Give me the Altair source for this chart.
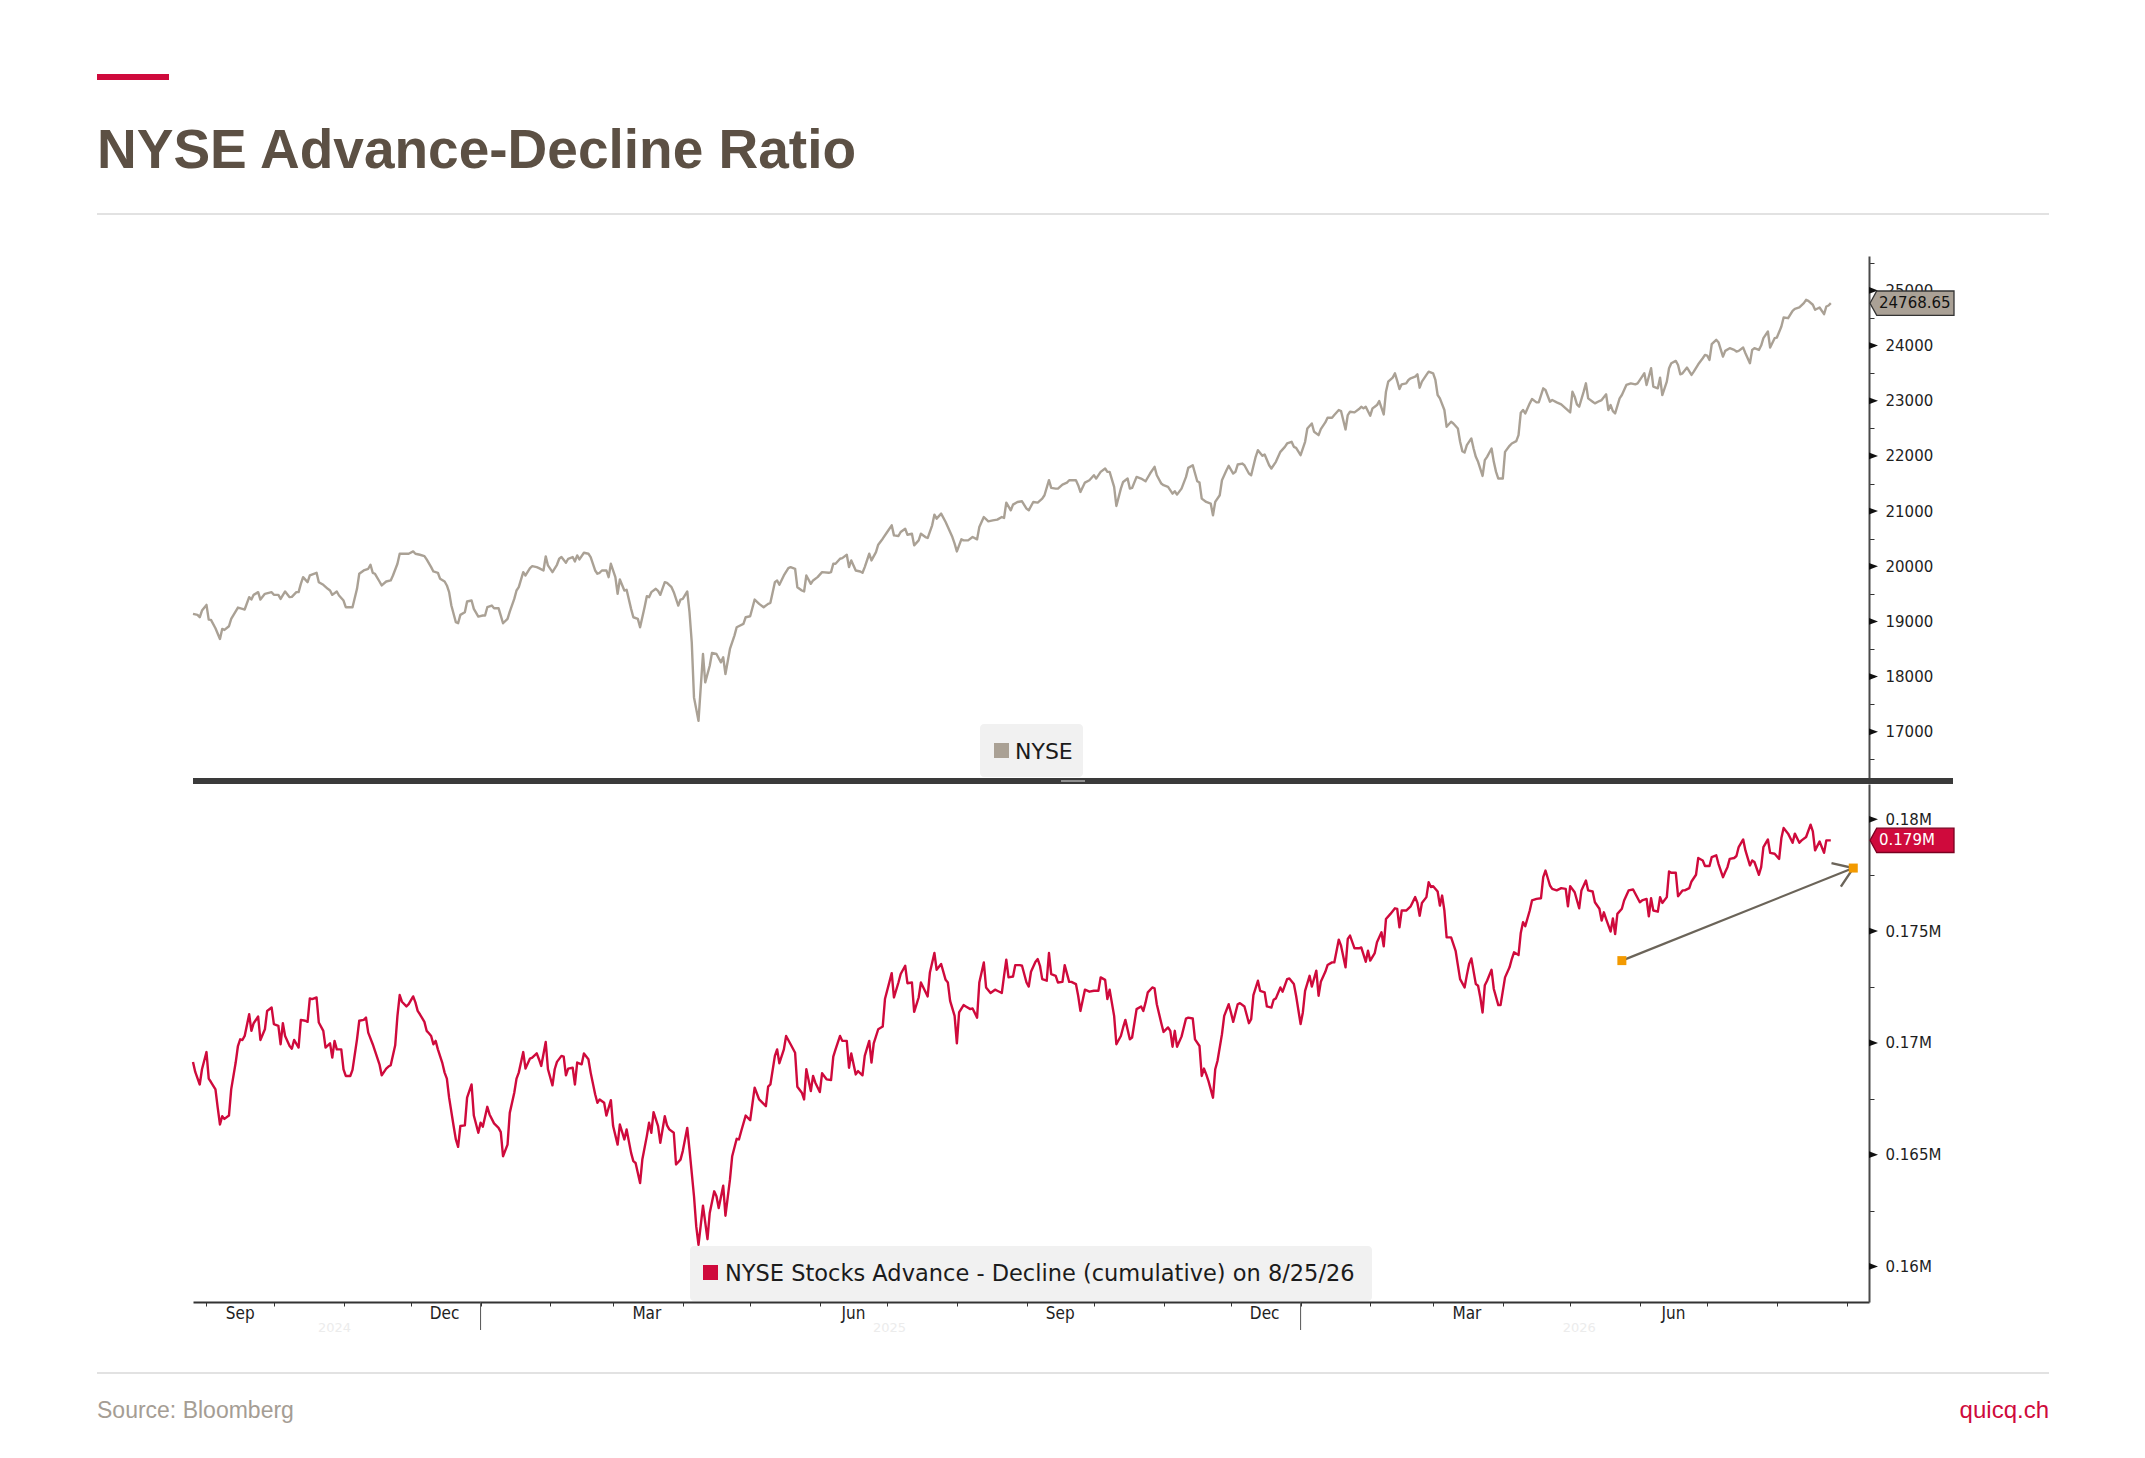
import math

import altair as alt
import pandas as pd

# ---------------------------------------------------------------- data
START = pd.Timestamp("2024-08-26")   # day 0 of the series

# NYSE Composite, days since START and index level
nyse_days = [
    0, 2, 3, 4, 6, 7, 8, 10, 12, 13, 14, 16, 17, 20, 22, 23, 25, 26, 27, 29,
    30, 32, 35, 36, 38, 39, 41, 43, 44, 46, 47, 48, 49, 51, 52, 55, 56, 58, 60, 61,
    62, 64, 65, 67, 68, 71, 73, 74, 76, 78, 79, 80, 81, 83, 84, 86, 88, 89, 91, 92,
    94, 96, 98, 99, 101, 103, 104, 106, 107, 109, 110, 112, 113, 114, 115, 117, 118, 119, 121, 122,
    124, 125, 127, 129, 130, 131, 133, 134, 136, 137, 138, 140, 141, 143, 144, 145, 147, 148, 150, 151,
    153, 154, 156, 157, 158, 160, 162, 163, 164, 166, 167, 169, 170, 171, 172, 174, 176, 177, 179, 180,
    181, 182, 184, 185, 186, 188, 189, 190, 192, 193, 195, 196, 198, 199, 201, 202, 203, 204, 206, 207,
    208, 210, 211, 213, 214, 216, 217, 218, 220, 221, 222, 223, 224, 225, 227, 228, 230, 231, 233, 235,
    236, 237, 239, 241, 242, 245, 246, 248, 250, 252,
    254, 256, 257, 259, 260, 261, 263, 265, 266, 268, 269, 271, 272, 273, 275, 276, 278, 280, 283, 284,
    285, 286, 288, 289, 291, 292, 293, 295, 297, 298, 299, 301, 302, 304, 305, 307, 309, 311, 312, 314,
    315, 317, 318, 320, 321, 323, 324, 326, 327, 329, 330, 331, 333, 335, 336, 338, 339, 340, 342, 343,
    345, 347, 349, 350, 352, 354, 356, 358, 360, 361, 362, 364, 365, 367, 369, 371, 372, 374, 376, 378,
    379, 381, 382, 384, 385, 387, 389, 390, 393, 394, 395, 397, 399, 401, 402, 404, 406, 407, 408, 410,
    411, 413, 414, 416, 417, 418, 420, 422, 424, 426, 428, 429, 431, 432, 434, 436, 437, 438, 440, 442,
    443, 445, 447, 448, 449, 451, 453, 454, 455, 457, 458, 460, 461, 463, 464, 465, 467, 468, 470, 471,
    473, 474, 476, 477, 479, 480, 482, 484, 486, 487, 489, 490, 491, 493, 495, 496, 498, 499,
    501, 502, 504, 505, 507, 508, 510, 511, 513, 514, 515, 517, 519, 520, 521, 522, 524, 525, 526, 527,
    528, 530, 531, 532, 534, 535, 536, 537, 538, 540, 541, 542, 544, 545, 546, 547, 549, 550, 552, 553,
    554, 555, 557, 558, 560, 561, 563, 564, 565, 566, 567, 569, 570, 571, 572, 574, 575, 576, 578, 579,
    580, 581, 583, 584, 586, 587, 589, 590, 591, 592, 593, 595, 596, 598, 599, 601, 602, 604, 605, 607,
    609, 611, 613, 614, 615, 616, 617, 619, 620, 621, 623, 624, 626, 627, 629, 630, 631, 632, 633, 635,
    636, 637, 638, 640, 642, 643, 645, 646, 647, 649, 650, 652, 653, 654, 656, 657, 658, 660, 661, 662,
    663, 665, 667, 668, 670, 672, 673, 674, 675, 676, 678, 679, 681, 682, 684, 686, 687, 688, 690, 691,
    693, 694, 695, 697, 698, 699, 701, 702, 704, 705, 707, 708, 710, 712, 713, 715, 717, 718, 719, 721,
    722, 724, 726, 727, 728, 729,
]
nyse_vals = [
    19137, 19119, 19076, 19197, 19300, 19034, 19028, 18876, 18683, 18864, 18846, 18913, 19046, 19252, 19228, 19216, 19440, 19397, 19482, 19531,
    19397, 19500, 19531, 19482, 19482, 19409, 19543, 19440, 19446, 19531, 19531, 19682, 19803, 19712, 19833, 19882, 19712, 19664, 19591, 19561,
    19482, 19543, 19470, 19379, 19258, 19258, 19591, 19864, 19924, 19955, 20027, 19882, 19864, 19724, 19652, 19724, 19743, 19833, 20045, 20227,
    20227, 20227, 20269, 20227, 20209, 20185, 20124, 19985, 19906, 19882, 19773, 19724, 19652, 19531, 19288, 18985, 18967, 19119, 19167, 19361,
    19379, 19228, 19088, 19107, 19107, 19258, 19288, 19240, 19240, 19107, 18967, 19046, 19179, 19409, 19561, 19621, 19894, 19833, 19967, 20003,
    19985, 19967, 19924, 20179, 20015, 19894, 20027, 20136, 20167, 20064, 20136, 20167, 20088, 20197, 20124, 20245, 20227, 20167, 19924, 19864,
    19882, 19924, 19924, 19803, 20045, 19803, 19500, 19761, 19561, 19573, 19228, 19076, 19046, 18895, 19258, 19458, 19440, 19531, 19591, 19555,
    19482, 19712, 19700, 19621, 19531, 19288, 19397, 19409, 19543, 19167, 18622, 17623, 17411, 17199, 18410, 17895, 18198, 18428, 18410, 18259,
    18349, 18047, 18501, 18743, 18895, 18955, 19076, 19094, 19397, 19319,
    19258, 19319, 19337, 19712, 19743, 19664, 19833, 19967, 19985, 19955, 19621, 19561, 19543, 19833, 19682, 19743, 19803, 19894, 19882, 19894,
    20045, 20045, 20136, 20148, 20209, 19985, 20106, 19924, 19906, 19882, 19985, 20227, 20106, 20257, 20391, 20500, 20621, 20742, 20560, 20548,
    20621, 20681, 20572, 20590, 20379, 20469, 20590, 20530, 20512, 20742, 20936, 20863, 20954, 20802, 20712, 20530, 20409, 20269, 20488, 20469,
    20469, 20530, 20488, 20712, 20893, 20815, 20833, 20845, 20893, 20875, 21154, 21014, 21117, 21166, 21178, 21045, 21014, 21166, 21154, 21226,
    21287, 21560, 21420, 21408, 21408, 21481, 21517, 21560, 21560, 21469, 21348, 21517, 21560, 21650, 21590, 21711, 21772, 21711, 21711, 21438,
    21093, 21408, 21529, 21590, 21408, 21420, 21620, 21590, 21541, 21681, 21802, 21650, 21499, 21469, 21438, 21317, 21360, 21299, 21408, 21620,
    21784, 21832, 21541, 21517, 21226, 21166, 21136, 20924, 21166, 21287, 21560, 21741, 21820, 21681, 21711, 21844, 21862, 21832, 21681, 21650,
    21984, 22105, 22002, 22026, 21832, 21772, 21893, 22074, 22165, 22226, 22256, 22165, 22147, 22014, 22256, 22498, 22589, 22438,
    22377, 22486, 22607, 22692, 22692, 22741, 22832, 22813, 22480, 22741, 22801, 22789, 22850, 22892, 22862, 22892, 22729, 22862, 22892, 22922,
    22995, 22753, 23165, 23346, 23419, 23498, 23359, 23213, 23298, 23316, 23377, 23407, 23437, 23480, 23237, 23346, 23468, 23528, 23498, 23377,
    23104, 23044, 22832, 22529, 22620, 22589, 22498, 22256, 22087, 22062, 22196, 22317, 22135, 21984, 21893, 21638, 21923, 21984, 22135, 21893,
    21711, 21590, 21590, 22074, 22183, 22226, 22268, 22377, 22783, 22832, 22771, 22953, 23031, 22971, 22971, 23225, 23195, 22983, 23013, 22971,
    22935, 22862, 22789, 23165, 23074, 22935, 22892, 23165, 23316, 23044, 22983, 22953, 22995, 23013, 23116, 22832, 22922, 22813, 22771, 23044,
    23104, 23195, 23286, 23316, 23298, 23316, 23437, 23498, 23286, 23589, 23256, 23225, 23419, 23104, 23346, 23589, 23680, 23722, 23649, 23480,
    23498, 23601, 23468, 23528, 23661, 23770, 23831, 23819, 23740, 24025, 24104, 24061, 23801, 23904, 23952, 23922, 23892, 23904, 23964, 23861,
    23680, 23922, 23952, 23922, 24001, 24134, 24255, 23964, 24134, 24146, 24346, 24509, 24497, 24631, 24667, 24691, 24770, 24830, 24812, 24740,
    24649, 24691, 24570, 24709, 24727, 24768.65,
]

# NYSE advance - decline line (cumulative), in thousands
ad_days = [
    0, 1, 3, 4, 6, 7, 8, 10, 11, 12, 13, 14, 16, 17, 19, 20, 21, 22, 23, 25,
    26, 27, 29, 30, 32, 33, 35, 36, 38, 39, 40, 41, 43, 44, 45, 47, 48, 50, 51, 52,
    53, 55, 56, 58, 59, 61, 62, 63, 64, 66, 67, 68, 70, 71, 73, 74, 76, 77, 78, 80,
    81, 83, 84, 86, 87, 88, 90, 91, 92, 93, 95, 96, 98, 99, 100, 101, 103, 104, 105, 106,
    107, 108, 109, 111, 112, 113, 114, 116, 117, 118, 119, 121, 122, 124, 125, 127, 128, 129, 131, 132,
    134, 136, 137, 138, 140, 141, 143, 144, 145, 147, 148, 150, 151, 153, 154, 155, 157, 158, 160, 161,
    162, 164, 165, 166, 167, 169, 170, 171, 173, 174, 176, 177, 179, 180, 181, 183, 184, 186, 187, 189,
    190, 192, 193, 195, 196, 197, 199, 200, 202, 203, 204, 205, 207, 208, 210, 211, 212, 214, 215, 217,
    218, 220, 221, 223, 224, 225, 227, 229, 230, 232, 233, 234, 236, 237, 239, 240, 242, 243, 244, 246,
    248, 250, 252,
    255, 256, 257, 259, 260, 261, 263, 264, 266, 268, 269, 271, 272, 273, 275, 276, 277, 279, 280, 282,
    284, 285, 286, 288, 289, 291, 292, 293, 295, 296, 298, 299, 301, 302, 303, 305, 307, 308, 311, 312,
    314, 315, 317, 318, 320, 321, 323, 324, 326, 327, 328, 330, 331, 333, 335, 336, 337, 339, 340, 341,
    343, 344, 346, 347, 349, 350, 352, 353, 355, 357, 358, 360, 361, 362, 363, 365, 366, 368, 369, 371,
    372, 373, 375, 376, 377, 378, 380, 381, 382, 384, 385, 387, 388, 390, 391, 393, 394, 395, 397, 399,
    401, 403, 404, 406, 407, 408, 410, 411, 413, 414, 415, 417, 418, 420, 422, 423, 424, 425, 427, 428,
    429, 431, 432, 434, 435, 436, 437, 438, 440, 442, 443, 445, 446, 448, 449, 450, 451, 452, 454, 455,
    456, 458, 459, 461, 462, 463, 465, 466, 468, 470, 471, 472, 474, 475, 477, 478, 480, 481, 482, 484,
    485, 487, 488, 490, 491, 493, 494, 495, 497, 498, 500,
    501, 502, 504, 505, 507, 508, 510, 511, 513, 514, 515, 517, 519, 520, 522, 523, 524, 526, 527, 529,
    530, 531, 533, 535, 536, 537, 538, 540, 542, 544, 545, 546, 547, 549, 550, 551, 552, 554, 555, 556,
    557, 558, 560, 562, 563, 564, 566, 567, 568, 569, 571, 572, 573, 574, 575, 576, 578, 579, 581, 582,
    584, 586, 587, 588, 590, 591, 592, 593, 595, 596, 598, 600, 601, 602, 604, 605, 607, 609, 611, 612,
    613, 615, 617, 618, 620, 621, 623, 624, 626, 627, 628, 629, 631, 632, 633, 634, 636, 637, 639, 641,
    642, 644, 645, 647, 648, 649, 650, 652, 653, 654, 656, 657, 658, 660, 661, 663, 664, 666, 667, 669,
    670, 672, 673, 675, 676, 678, 679, 681, 682, 683, 684, 686, 687, 688, 690, 691, 693, 694, 695, 697,
    698, 699, 701, 702, 704, 706, 707, 708, 710, 712, 713, 715, 716, 718, 720, 721, 722, 724, 726, 727,
    728, 729,
]
ad_vals = [
    169.15, 168.70, 168.14, 168.82, 169.59, 168.40, 168.25, 167.92, 167.10, 166.35, 166.72, 166.60, 166.75, 167.92, 169.12, 169.86, 170.16, 170.13, 170.31, 171.28,
    170.54, 170.88, 171.18, 170.13, 170.61, 171.43, 171.58, 170.84, 170.76, 169.94, 170.88, 170.31, 169.86, 169.74, 170.13, 169.79, 171.03, 170.99, 170.94, 171.99,
    171.96, 172.03, 170.91, 170.54, 169.79, 169.98, 169.34, 170.09, 169.71, 169.71, 168.82, 168.52, 168.52, 168.79, 170.16, 170.99, 171.03, 171.13, 170.46, 169.94,
    169.64, 169.04, 168.55, 168.85, 168.94, 169.00, 169.89, 171.21, 172.14, 171.84, 171.63, 171.73, 172.08, 171.81, 171.43, 171.28, 170.94, 170.54, 170.43, 170.31,
    169.94, 170.09, 169.71, 169.09, 168.67, 168.40, 167.55, 166.28, 165.68, 165.35, 166.28, 166.31, 167.55, 168.14, 166.75, 165.98, 166.43, 166.25, 167.14, 166.80,
    166.40, 166.20, 166.01, 164.93, 165.45, 166.87, 167.77, 168.40, 168.67, 169.59, 168.85, 169.30, 169.34, 169.53, 169.27, 168.97, 170.04, 168.82, 168.10, 168.82,
    169.15, 169.42, 169.39, 168.55, 168.85, 168.89, 168.14, 169.12, 169.04, 169.53, 169.27, 168.67, 167.70, 167.32, 167.47, 167.32, 166.75, 167.44, 166.28, 165.45,
    166.35, 165.68, 166.13, 165.08, 164.71, 164.63, 163.73, 164.78, 165.83, 166.43, 165.98, 166.90, 166.28, 165.53, 166.72, 166.31, 166.13, 165.98, 164.56, 164.78,
    165.16, 166.20, 165.23, 163.14, 161.79, 160.97, 162.72, 161.22, 162.39, 163.36, 163.14, 162.61, 163.61, 162.27, 163.88, 164.93, 165.71, 165.68, 166.05, 166.75,
    166.54, 168.00, 167.47,
    167.17, 168.04, 168.14, 169.42, 169.71, 169.09, 169.71, 170.31, 169.94, 169.56, 168.04, 167.77, 167.47, 168.82, 167.85, 168.52, 168.22, 167.80, 168.64, 168.37,
    168.34, 169.39, 169.71, 170.31, 170.09, 170.09, 168.89, 169.53, 168.59, 168.74, 168.55, 169.42, 170.09, 169.12, 169.98, 170.61, 170.73, 171.96, 173.12, 172.03,
    172.70, 173.08, 173.45, 172.67, 172.70, 171.39, 172.03, 172.70, 172.29, 172.08, 173.15, 174.02, 173.27, 173.53, 172.82, 172.70, 171.88, 171.21, 169.98, 171.36,
    171.69, 171.63, 171.51, 171.54, 171.13, 172.70, 173.60, 172.48, 172.23, 172.38, 172.33, 172.23, 173.00, 173.72, 172.93, 172.97, 173.48, 173.48, 173.45, 172.70,
    172.52, 173.18, 173.63, 173.75, 173.45, 172.85, 172.78, 174.02, 173.08, 173.00, 172.70, 172.73, 173.48, 172.73, 172.73, 172.63, 172.11, 171.43, 172.38, 172.29,
    172.33, 172.33, 172.93, 172.82, 171.96, 172.38, 171.21, 169.94, 170.31, 170.69, 171.03, 170.16, 170.24, 171.51, 171.63, 171.43, 171.81, 172.26, 172.48, 172.44,
    171.73, 170.88, 170.49, 170.69, 170.54, 169.83, 170.54, 169.83, 170.28, 171.09, 171.13, 171.09, 170.16, 169.86, 168.52, 168.85, 168.59, 168.29, 167.55, 168.82,
    169.19, 170.39, 171.21, 171.73, 171.36, 170.94, 171.73, 171.78, 171.63, 170.88, 171.06, 172.14, 172.78, 172.33, 172.26, 171.63, 171.58, 171.93, 171.99, 172.48,
    172.29, 172.85, 172.88, 172.63, 172.11, 170.84, 171.36, 172.33, 173.00, 172.52, 173.23,
    172.11, 172.73, 173.18, 173.48, 173.60, 173.60, 174.62, 174.35, 173.38, 174.65, 174.80, 174.23, 174.23, 174.27, 173.63, 174.12, 173.68, 174.02, 174.50, 174.95,
    174.32, 175.54, 175.77, 176.02, 175.99, 175.17, 175.92, 175.92, 176.11, 176.52, 176.26, 175.69, 176.26, 176.52, 177.19, 176.97, 177.01, 176.77, 176.14, 176.59,
    175.92, 174.72, 174.72, 174.12, 173.48, 172.85, 172.48, 173.03, 173.53, 173.78, 172.63, 172.56, 172.03, 171.36, 172.58, 172.78, 173.27, 172.41, 171.69, 171.69,
    172.93, 173.38, 173.75, 174.05, 173.93, 174.92, 175.40, 175.22, 175.92, 176.37, 176.44, 176.47, 177.41, 177.71, 177.04, 176.89, 176.82, 176.92, 176.89, 176.11,
    177.01, 176.74, 176.02, 176.82, 177.26, 176.82, 176.77, 176.29, 176.00, 175.47, 175.84, 175.54, 174.98, 175.57, 174.87, 175.77, 176.00, 176.37, 176.82, 176.86,
    176.67, 176.29, 176.37, 176.44, 175.66, 176.47, 175.92, 175.87, 176.52, 176.26, 176.52, 177.67, 177.61, 177.61, 176.56, 176.82, 176.82, 176.92, 177.22, 177.52,
    178.27, 178.16, 177.91, 177.91, 178.31, 178.39, 178.01, 177.41, 177.64, 177.86, 178.23, 178.27, 178.36, 178.76, 179.10, 178.61, 177.94, 178.16, 178.09, 177.52,
    177.86, 178.76, 179.10, 178.50, 178.46, 178.23, 179.16, 179.61, 179.36, 178.95, 179.36, 178.95, 179.06, 179.21, 179.76, 179.46, 178.61, 179.01, 178.50, 179.06,
    179.06, 179.06,
]

# last values shown in the tags on the right axis
nyse_last_label = ["24768.65"]
ad_last_label = ["0.179M"]

# trend arrow drawn on the lower panel (days since START, thousands)
arrow_days = [636, 739]
arrow_vals = [173.68, 177.82]

# axis ticks / labels
top_ticks = [16500, 17000, 17500, 18000, 18500, 19000, 19500, 20000, 20500,
             21000, 21500, 22000, 22500, 23000, 23500, 24000, 24500, 25000, 25500]
top_major = [17000, 18000, 19000, 20000, 21000, 22000, 23000, 24000, 25000]
bot_ticks = [160, 162.5, 165, 167.5, 170, 172.5, 175, 177.5, 180]
bot_major = [160, 165, 170, 175, 180]
month_labels = ["Sep", "Dec", "Mar", "Jun", "Sep", "Dec", "Mar", "Jun"]
month_label_dates = ["2024-09-16", "2024-12-16", "2025-03-16", "2025-06-16",
                     "2025-09-16", "2025-12-16", "2026-03-16", "2026-06-16"]
year_tick_dates = ["2025-01-01", "2026-01-01"]
year_labels = ["2024", "2025", "2026"]
year_label_dates = ["2024-10-28", "2025-07-02", "2026-05-05"]

TITLE = "NYSE Advance-Decline Ratio"
TOP_LEGEND = "NYSE"
BOT_LEGEND = "NYSE Stocks Advance - Decline (cumulative) on 8/25/26"
SOURCE = "Source: Bloomberg"
BRAND = "quicq.ch"

# ---------------------------------------------------------------- style
W = 1676
H_TOP = 524
H_BOT = 518
DOMAIN_DAYS = 746
TOP_DOMAIN = [16126, 25624]
BOT_DOMAIN = [158.41, 181.58]
RIGHT_EDGE = 1856      # right end of the header / footer rules
TAG_W = 84

GREY = "#aaa195"
RED = "#cf0a3c"
ORANGE = "#f39a00"
DARK = "#3a3a3a"
AXIS_FONT = "DejaVu Sans"
TEXT_FONT = "Liberation Sans"
XLAB_FONT = "'Liberation Sans Narrow', 'DejaVu Sans Condensed', 'DejaVu Sans'"

TAG = "M -1 0 L -0.84 -0.29 L 1 -0.29 L 1 0.29 L -0.84 0.29 Z"
TRI = "M -1 -0.75 L 1 0 L -1 0.75 Z"
CHEVRON = "M -0.8 -0.55 L 0 0 L -0.8 0.55"


def to_dates(days):
    return START + pd.to_timedelta(days, unit="D")


nyse = pd.DataFrame({"date": to_dates(nyse_days), "value": nyse_vals})
ad = pd.DataFrame({"date": to_dates(ad_days), "value": ad_vals})
nyse_tag = pd.DataFrame({"value": [nyse_vals[-1]], "label": nyse_last_label})
ad_tag = pd.DataFrame({"value": [ad_vals[-1]], "label": ad_last_label})
arrow = pd.DataFrame({"date": to_dates(arrow_days), "value": arrow_vals})
top_tri = pd.DataFrame({"value": top_major})
bot_tri = pd.DataFrame({"value": bot_major})
months = pd.DataFrame({"date": pd.to_datetime(month_label_dates), "label": month_labels})
year_ticks = pd.DataFrame({"date": pd.to_datetime(year_tick_dates)})
years = pd.DataFrame({"date": pd.to_datetime(year_label_dates), "label": year_labels})
one = pd.DataFrame({"k": [0]})

month_starts = pd.date_range("2024-09-01", "2026-09-01", freq="MS")
month_tick_values = [alt.DateTime(year=d.year, month=d.month, date=1) for d in month_starts]

x_scale = alt.Scale(domain=[alt.DateTime(year=2024, month=8, date=26),
                            alt.DateTime(year=2026, month=9, date=11)])


def y_axis(values, label_expr):
    return alt.Axis(orient="right", values=values, labelExpr=label_expr,
                    labelOverlap=False, labelFont=AXIS_FONT, labelFontSize=15,
                    labelColor="#1e1e1e", labelPadding=11, tickSize=5,
                    tickColor="#333333", tickWidth=1, domainColor="#4a4a4a",
                    domainWidth=2, grid=False, title=None, zindex=0)


top_x = alt.X("date:T", scale=x_scale, axis=None)
top_y = alt.Y("value:Q", scale=alt.Scale(domain=TOP_DOMAIN, nice=False, zero=False),
              axis=y_axis(top_ticks, "datum.value % 1000 == 0 ? format(datum.value, 'd') : ''"))
bot_x = alt.X("date:T", scale=x_scale,
              axis=alt.Axis(values=month_tick_values, labels=False, tickSize=4,
                            tickColor="#333333", domainColor="#333333", domainWidth=2,
                            grid=False, title=None, zindex=0))
bot_y = alt.Y("value:Q", scale=alt.Scale(domain=BOT_DOMAIN, nice=False, zero=False),
              axis=y_axis(bot_ticks, "datum.value % 5 == 0 ? format(datum.value / 1000, '.3~f') + 'M' : ''"))


def px_rect(x1, x2, y1, y2, **style):
    return alt.Chart(one).mark_rect(**style).encode(
        x=alt.value(x1), x2=alt.value(x2), y=alt.value(y1), y2=alt.value(y2))


def px_text(x, y, text, **style):
    return alt.Chart(one).mark_text(**style).encode(
        x=alt.value(x), y=alt.value(y), text=alt.value(text))


def px_hrule(x1, x2, y, **style):
    return alt.Chart(one).mark_rule(**style).encode(
        x=alt.value(x1), x2=alt.value(x2), y=alt.value(y))


def tag_layers(df, y_enc, fill, stroke, text_color):
    shape = alt.Chart(df).mark_point(
        shape=TAG, size=TAG_W ** 2, filled=True, fill=fill, stroke=stroke,
        strokeWidth=1.3, opacity=1).encode(x=alt.value(W + 1 + TAG_W / 2), y=y_enc)
    text = alt.Chart(df).mark_text(
        align="left", baseline="middle", font=AXIS_FONT, fontSize=15,
        color=text_color).encode(x=alt.value(W + 10), y=y_enc, text="label:N")
    return shape + text


def tri_layer(df, y_enc):
    return alt.Chart(df).mark_point(
        shape=TRI, size=81, filled=True, color="#111111", opacity=1).encode(
        x=alt.value(W + 4.5), y=y_enc)


# ---------------------------------------------------------------- upper panel
top = alt.layer(
    px_rect(-96, -24, -182, -176, color=RED),
    px_text(-96, -88, TITLE, align="left", baseline="alphabetic", font=TEXT_FONT,
            fontSize=55, fontWeight="bold", color="#5c5044"),
    px_hrule(-96, RIGHT_EDGE, -42, color="#d9d9d9", strokeWidth=1.5),
    px_rect(787, 890, 468, 521, color="#f1f1f1", cornerRadius=4),
    px_rect(801, 816, 487, 502, color=GREY),
    px_text(822, 503, TOP_LEGEND, align="left", baseline="alphabetic",
            font=AXIS_FONT, fontSize=22, color="#1b1b1b"),
    alt.Chart(nyse).mark_line(color=GREY, strokeWidth=2.4, strokeJoin="round").encode(
        x=top_x, y=top_y),
    tri_layer(top_tri, top_y),
    tag_layers(nyse_tag, top_y, "#aaa196", "#333333", "#111111"),
    px_hrule(0, W + TAG_W, H_TOP + 1, color=DARK, strokeWidth=6),
    px_hrule(868, 892, H_TOP + 1, color="#8f8f8f", strokeWidth=2),
).properties(width=W, height=H_TOP)

# ---------------------------------------------------------------- lower panel
dx = (arrow_days[1] - arrow_days[0]) * W / DOMAIN_DAYS
dy = (arrow_vals[1] - arrow_vals[0]) * H_BOT / (BOT_DOMAIN[1] - BOT_DOMAIN[0])
chevron_angle = 360 - math.degrees(math.atan2(dy, dx))
arrow_end = arrow.iloc[[1]]

bottom = alt.layer(
    px_rect(497, 1179, 462, 517, color="#f1f1f1", cornerRadius=4),
    px_rect(510, 525, 481, 496, color=RED),
    px_text(532, 497, BOT_LEGEND, align="left", baseline="alphabetic",
            font=AXIS_FONT, fontSize=22.5, color="#1b1b1b"),
    alt.Chart(ad).mark_line(color=RED, strokeWidth=2.4, strokeJoin="round").encode(
        x=bot_x, y=bot_y),
    alt.Chart(arrow).mark_line(color="#6b6459", strokeWidth=2.2).encode(x=bot_x, y=bot_y),
    alt.Chart(arrow_end).mark_point(
        shape=CHEVRON, size=46 ** 2, filled=False, stroke="#6b6459", strokeWidth=2.4,
        angle=chevron_angle, opacity=1).encode(x=bot_x, y=bot_y),
    alt.Chart(arrow).mark_square(size=81, color=ORANGE, opacity=1).encode(x=bot_x, y=bot_y),
    tri_layer(bot_tri, bot_y),
    tag_layers(ad_tag, bot_y, RED, "#7a0020", "#ffffff"),
    alt.Chart(months).mark_text(baseline="middle", font=XLAB_FONT, fontSize=17,
                                color="#222222").encode(
        x=bot_x, y=alt.value(H_BOT + 12), text="label:N"),
    alt.Chart(year_ticks).mark_rule(color="#555555", strokeWidth=1).encode(
        x=bot_x, y=alt.value(H_BOT), y2=alt.value(H_BOT + 28)),
    alt.Chart(years).mark_text(baseline="middle", font=AXIS_FONT, fontSize=13,
                               color="#ececec").encode(
        x=bot_x, y=alt.value(H_BOT + 26), text="label:N"),
    px_hrule(-96, RIGHT_EDGE, 589, color="#d9d9d9", strokeWidth=1.5),
    px_text(-96, 627, SOURCE, align="left", baseline="middle", font=TEXT_FONT,
            fontSize=23, color="#a59d94"),
    px_text(RIGHT_EDGE, 627, BRAND, align="right", baseline="middle", font=TEXT_FONT,
            fontSize=24, color=RED),
).properties(width=W, height=H_BOT)

chart = alt.vconcat(top, bottom, spacing=0).properties(
    padding={"left": 88, "top": 66, "right": 10, "bottom": 10},
    background="white",
).configure_view(strokeWidth=0)

chart.save("out.html", embed_options={"renderer": "svg", "actions": False})
